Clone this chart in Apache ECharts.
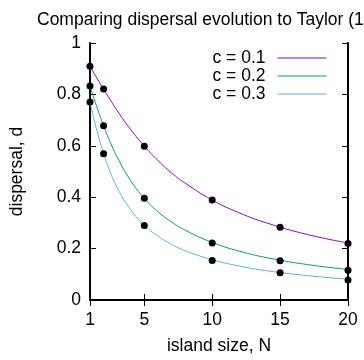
<!DOCTYPE html>
<html>
<head>
<meta charset="UTF-8">
<title>dispersal</title>
<style>
html,body{margin:0;padding:0;background:#fff;}
</style>
</head>
<body>
	<div id="main" style="width: 364px;height:360px;"></div>
</body>
<script type="text/javascript" src="https://cdn.jsdelivr.net/npm/echarts@6/dist/echarts.min.js"></script>
<script>
var curveN = [1, 1.5, 2, 2.5, 3, 4, 5, 6, 7, 8, 10, 12, 14, 17, 20];
// curve values, one list per c
var curve01 = [0.909, 0.864, 0.820, 0.778, 0.737, 0.663, 0.599, 0.543, 0.495, 0.455, 0.389, 0.339, 0.300, 0.255, 0.222];
var curve02 = [0.833, 0.752, 0.678, 0.613, 0.556, 0.464, 0.396, 0.344, 0.304, 0.272, 0.224, 0.190, 0.165, 0.138, 0.119];
var curve03 = [0.769, 0.661, 0.570, 0.496, 0.437, 0.351, 0.291, 0.249, 0.217, 0.192, 0.157, 0.132, 0.114, 0.095, 0.081];

// simulation dots
var dotN = [1, 2, 5, 10, 15, 20];
var dots01 = [0.910, 0.821, 0.598, 0.389, 0.283, 0.220];
var dots02 = [0.833, 0.678, 0.396, 0.222, 0.153, 0.116];
var dots03 = [0.770, 0.569, 0.290, 0.154, 0.106, 0.078];

var xTicks = [1, 5, 10, 15, 20];
var names = ['c = 0.1', 'c = 0.2', 'c = 0.3'];
var colors = ['#9400d3', '#009e73', '#56b4e9'];

function pairs(xs, ys){
	var out = [];
	for (var i = 0; i < xs.length; i++) out.push([xs[i], ys[i]]);
	return out;
}

var myChart = echarts.init(document.getElementById('main'));

var font = 'Liberation Sans';
var fs = 17.5;
var axisBase = {
	type: 'value',
	axisLine: {show: true, lineStyle: {color: '#000', width: 2}},
	splitLine: {show: false},
	axisTick: {show: true, inside: true, length: 6, lineStyle: {color: '#000', width: 1}}
};

var curves = [curve01, curve02, curve03];
var dotsets = [dots01, dots02, dots03];
var series = [];
for (var k = 0; k < 3; k++) {
	series.push({
		name: names[k],
		type: 'line',
		smooth: true,
		symbol: 'none',
		lineStyle: {color: colors[k], width: 1},
		itemStyle: {color: colors[k]},
		data: pairs(curveN, curves[k]),
		z: 2
	});
}
for (var k = 0; k < 3; k++) {
	series.push({
		type: 'scatter',
		symbolSize: 7,
		itemStyle: {color: '#000', opacity: 1},
		data: pairs(dotN, dotsets[k]),
		z: 3
	});
}

myChart.setOption({
	animation: false,
	textStyle: {fontFamily: font},
	title: {
		text: 'Comparing dispersal evolution to Taylor (1988)',
		left: 32,
		top: 6,
		textStyle: {fontFamily: font, fontSize: fs, fontWeight: 'normal', color: '#000'}
	},
	grid: {left: 82, right: 16, top: 43, bottom: 53},
	legend: {
		data: names,
		orient: 'vertical',
		right: 37,
		top: 49,
		padding: 0,
		align: 'right',
		itemWidth: 49,
		itemHeight: 14,
		itemGap: 0,
		itemStyle: {opacity: 0},
		lineStyle: {width: 1},
		textStyle: {fontFamily: font, fontSize: fs, lineHeight: 17.5, color: '#000', padding: [0, 7, 0, 0]}
	},
	xAxis: [
		Object.assign({}, axisBase, {
			min: 1, max: 20,
			position: 'bottom',
			name: 'island size, N',
			nameLocation: 'middle',
			nameGap: 37,
			nameTextStyle: {fontFamily: font, fontSize: fs, color: '#000'},
			axisTick: Object.assign({}, axisBase.axisTick, {customValues: xTicks}),
			axisLabel: {customValues: xTicks, margin: 11, fontFamily: font, fontSize: fs, color: '#000'}
		}),
		Object.assign({}, axisBase, {
			min: 1, max: 20,
			position: 'top',
			axisTick: Object.assign({}, axisBase.axisTick, {customValues: xTicks}),
			axisLabel: {show: false}
		})
	],
	yAxis: [
		Object.assign({}, axisBase, {
			min: 0, max: 1, interval: 0.2,
			position: 'left',
			name: 'dispersal, d',
			nameLocation: 'middle',
			nameGap: 64,
			nameTextStyle: {fontFamily: font, fontSize: fs, color: '#000'},
			axisLabel: {margin: 9, fontFamily: font, fontSize: fs, color: '#000'}
		}),
		Object.assign({}, axisBase, {
			min: 0, max: 1, interval: 0.2,
			position: 'right',
			axisLabel: {show: false}
		})
	],
	series: series
});
</script>
</html>
